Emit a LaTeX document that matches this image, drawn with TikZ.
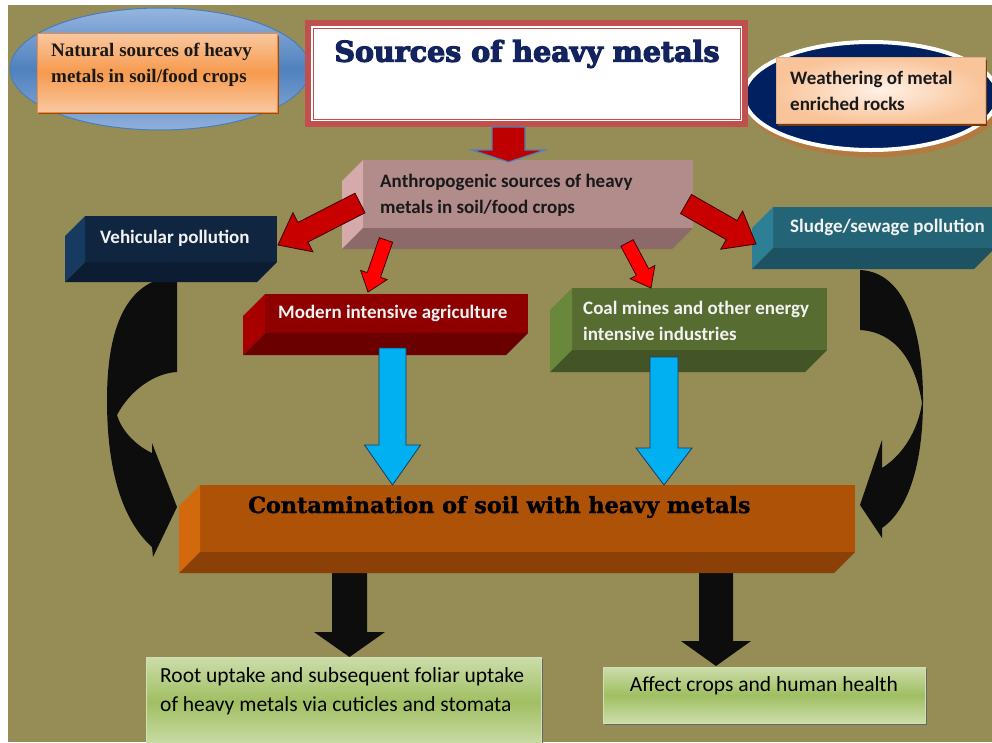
\documentclass[tikz,border=0pt]{standalone}
\usepackage{fontspec}
\setmainfont{Liberation Serif}
\newfontfamily\carl{Carlito}
\newfontfamily\dvs{DejaVu Serif}[BoldFeatures={FakeBold=4}]
\newfontfamily\dvsm{DejaVu Serif}[BoldFeatures={FakeBold=1.5}]
\usetikzlibrary{calc,shapes.geometric}
\definecolor{bg}{HTML}{958C56}
\definecolor{elltop}{HTML}{95B5E0}
\definecolor{ellmid}{HTML}{4F81BD}
\definecolor{ellbot}{HTML}{8FB0DC}
\definecolor{ellborder}{HTML}{4A7DBA}
\definecolor{nattop}{HTML}{F9C8A0}
\definecolor{natmid}{HTML}{F79A4E}
\definecolor{natborder}{HTML}{F08A3A}
\definecolor{natshadow}{HTML}{9A4A0A}
\definecolor{titlered}{HTML}{C0504D}
\definecolor{titlenavy}{HTML}{12235E}
\definecolor{navy}{HTML}{002060}
\definecolor{wshadow}{HTML}{B5793F}
\definecolor{peachin}{HTML}{FFF1E6}
\definecolor{peachout}{HTML}{F9C49A}
\definecolor{antF}{HTML}{B28B8B}\definecolor{antL}{HTML}{D4AAAA}\definecolor{antB}{HTML}{8C6A6A}
\definecolor{vehF}{HTML}{10253F}\definecolor{vehL}{HTML}{173A60}\definecolor{vehB}{HTML}{0C1D33}
\definecolor{sluF}{HTML}{236577}\definecolor{sluL}{HTML}{2C7F95}\definecolor{sluB}{HTML}{1C5262}
\definecolor{modF}{HTML}{8E0000}\definecolor{modL}{HTML}{A80000}\definecolor{modB}{HTML}{6A0000}
\definecolor{coaF}{HTML}{566C30}\definecolor{coaL}{HTML}{6A883B}\definecolor{coaB}{HTML}{435527}
\definecolor{conF}{HTML}{AE5207}\definecolor{conL}{HTML}{D2690C}\definecolor{conB}{HTML}{8A4006}
\definecolor{cyanA}{HTML}{00B0F0}
\definecolor{cyanD}{HTML}{1F3A5F}
\definecolor{redbig}{HTML}{C80000}
\definecolor{redsmall}{HTML}{FF0000}
\definecolor{reddark}{HTML}{400000}
\definecolor{arrblue}{HTML}{4F81BD}
\definecolor{greentop}{HTML}{CCDDAA}
\definecolor{greenmid}{HTML}{A0BF62}
\definecolor{greenborder}{HTML}{D0E0B0}
\definecolor{blk}{HTML}{0D0D0D}
\definecolor{whitetxt}{HTML}{F2F2F2}

\newcommand\cubeb[8]{%
  \node[face, fill=#5, minimum width=#3, minimum height=#4] (#1) at (#2) {};
  \fill[#6] (#1.north west) -- (#1.south west) -- ++(-#8,#8) -- ($(#1.north west)+(-#8,#8)$) -- cycle;
  \fill[#7] (#1.south west) -- (#1.south east) -- ++(-#8,#8) -- ($(#1.south west)+(-#8,#8)$) -- cycle;
}
\newcommand\blockarrow[6]{%
  \coordinate (ba) at ($(#3)!#6!(#2)$);
  \draw[#1] ($(#2)!#4!90:(#3)$) -- ($(ba)!#4!90:(#3)$) -- ($(ba)!#5!90:(#3)$) -- (#3)
    -- ($(ba)!#5!-90:(#3)$) -- ($(ba)!#4!-90:(#3)$) -- ($(#2)!#4!-90:(#3)$) -- cycle;
}

\tikzset{
  face/.style={inner sep=0pt, outer sep=0pt, draw=none},
  lbl/.style={inner sep=0pt, align=left, anchor=west},
  boldsans/.style={font={\carl\bfseries\fontsize{19}{26}\selectfont}},
  whitelbl/.style={lbl, boldsans, text=whitetxt},
  blacklbl/.style={lbl, boldsans, text=black!90},
  greenbox/.style={face, draw=greenborder, line width=1pt, top color=greentop, bottom color=greentop, middle color=greenmid},
  greentxt/.style={font={\carl\fontsize{21.5}{29}\selectfont}, text=black, inner sep=0pt},
  redarrbig/.style={fill=redbig, draw=reddark, line width=0.8pt},
  redarrsmall/.style={fill=redsmall, draw=reddark, line width=0.8pt},
  bluearr/.style={fill=cyanA, draw=cyanD, line width=0.8pt},
  blackarr/.style={fill=blk, draw=none},
}

\begin{document}
\begin{tikzpicture}[x=1pt,y=-1pt]
\useasboundingbox (0,0) rectangle (992,742);
\fill[white] (0,0) rectangle (992,742);
\fill[bg] (8,5) rectangle (992,742);

% left ellipse with natural sources
\node[ellipse, face, draw=ellborder, line width=1pt, top color=elltop, bottom color=ellbot, middle color=ellmid,
  minimum width=300pt, minimum height=122pt] (natell) at (160,69) {};
\fill[natshadow] (39,36) rectangle (279,114);
\node[face, draw=natborder, line width=0.8pt, top color=nattop, bottom color=nattop, middle color=natmid,
  minimum width=240pt, minimum height=79pt] (natural) at (157,72.5) {};
\node[lbl, font={\bfseries\fontsize{19}{26}\selectfont}, text=black!90] (naturalt) at (51,65)
  {Natural sources of heavy\\metals in soil/food crops};

% right ellipse with weathering
\fill[wshadow] (874,101) ellipse [x radius=129pt, y radius=56pt];
\node[ellipse, face, draw=white, line width=4pt, fill=navy, minimum width=254pt, minimum height=108pt] (wellip) at (871,96) {};
\fill[natshadow!80!black] (778,60) rectangle (987,126);
\node[face, draw=peachout!90!black, line width=0.6pt, inner color=peachin, outer color=peachout,
  minimum width=209pt, minimum height=66pt] (weather) at (880.5,90) {};
\node[blacklbl] (weathert) at (790,91) {Weathering of metal\\enriched rocks};

% title
\node[face, draw=titlered, line width=6pt, fill=white, minimum width=437pt, minimum height=101pt] (title) at (526.5,73.5) {};
\draw[titlered, line width=1pt] ($(title.north west)+(5,5)$) rectangle ($(title.south east)+(-5,-5)$);
\node[font={\dvs\bfseries\fontsize{28.5}{30}\selectfont}, text=titlenavy, inner sep=0pt] (titlet) at (527,54) {Sources of heavy metals};

% curved black arrows
\fill[blk] (177,278) -- (160,279) .. controls (125,290) and (107,330) .. (107,400)
  .. controls (107,470) and (122,520) .. (152,547) -- (153,557) -- (177,507) -- (152,443) -- (152,453)
  .. controls (137,446) and (122,432) .. (117,415)
  .. controls (130,390) and (155,373) .. (177,372) -- cycle;
\fill[blk] (860,270) .. controls (905,272) and (923,330) .. (923,400)
  .. controls (923,465) and (908,510) .. (882,528) -- (882,538) -- (860,505) -- (882,440) -- (882,468)
  .. controls (903,455) and (918,430) .. (922,403)
  .. controls (915,360) and (895,332) .. (860,330) -- cycle;

% black straight arrows
\coordinate (k1t) at (349.5,565); \coordinate (k1h) at (349.5,657);
\coordinate (k2t) at (716,565); \coordinate (k2h) at (716,666);
\blockarrow{blackarr}{k1t}{k1h}{17.5pt}{35.5pt}{25pt}
\blockarrow{blackarr}{k2t}{k2h}{17pt}{35pt}{25pt}

% 3D boxes
\cubeb{anthro}{528,194}{330pt}{68pt}{antF}{antL}{antB}{21}
\node[blacklbl] (anthrot) at (380,195) {Anthropogenic sources of heavy\\metals in soil/food crops};
\cubeb{vehic}{181,239}{192pt}{46pt}{vehF}{vehL}{vehB}{20}
\node[whitelbl] (vehict) at (100,238) {Vehicular pollution};
\cubeb{sludge}{884,227.5}{222pt}{41pt}{sluF}{sluL}{sluB}{21}
\node[whitelbl] (sludget) at (790,227) {Sludge/sewage pollution};
\cubeb{modern}{396.5,313.5}{263pt}{39pt}{modF}{modL}{modB}{22}
\node[whitelbl] (modernt) at (278,313) {Modern intensive agriculture};
\cubeb{coal}{699.5,319}{255pt}{62pt}{coaF}{coaL}{coaB}{22}
\node[whitelbl] (coalt) at (583,321) {Coal mines and other energy\\intensive industries};
\cubeb{contam}{527.5,518.5}{655pt}{67pt}{conF}{conL}{conB}{21}
\node[lbl, font={\dvsm\bfseries\fontsize{22.3}{26}\selectfont}, text=black] (contamt) at (248,507) {Contamination of soil with heavy metals};

% title arrow
\coordinate (t0) at (508.5,127); \coordinate (t1) at (508.5,162);
\blockarrow{fill=redbig!95!black, draw=arrblue, line width=1.2pt}{t0}{t1}{16.5pt}{36.5pt}{12pt}

% red arrows
\coordinate (ra0) at (360,203); \coordinate (ra1) at (278,245);
\coordinate (rd0) at (686,204); \coordinate (rd1) at (756,244);
\coordinate (rb0) at (386,240); \coordinate (rb1) at (368,292);
\coordinate (rc0) at (627,243); \coordinate (rc1) at (651,288);
\blockarrow{redarrbig}{ra0}{ra1}{11pt}{22pt}{28pt}
\blockarrow{redarrbig}{rd0}{rd1}{11pt}{22pt}{28pt}
\blockarrow{redarrsmall}{rb0}{rb1}{7pt}{14pt}{18pt}
\blockarrow{redarrsmall}{rc0}{rc1}{7pt}{14pt}{18pt}

% blue arrows
\coordinate (b10) at (392.5,348); \coordinate (b11) at (392.5,485);
\coordinate (b20) at (664,357); \coordinate (b21) at (664,485);
\blockarrow{bluearr}{b10}{b11}{13.5pt}{28pt}{40pt}
\blockarrow{bluearr}{b20}{b21}{14pt}{28pt}{37pt}

% green boxes
\fill[black!60] (148,659) rectangle (543,748);
\node[greenbox, minimum width=395pt, minimum height=90pt] (root) at (343.5,702) {};
\node[greentxt, align=left, anchor=west] (roott) at (160,691) {Root uptake and subsequent foliar uptake\\of heavy metals via cuticles and stomata};
\fill[black!60] (605,669) rectangle (927,725);
\node[greenbox, minimum width=322pt, minimum height=56pt] (affect) at (764,695) {};
\node[greentxt] (affectt) at (764,686) {Affect crops and human health};
\end{tikzpicture}
\end{document}
